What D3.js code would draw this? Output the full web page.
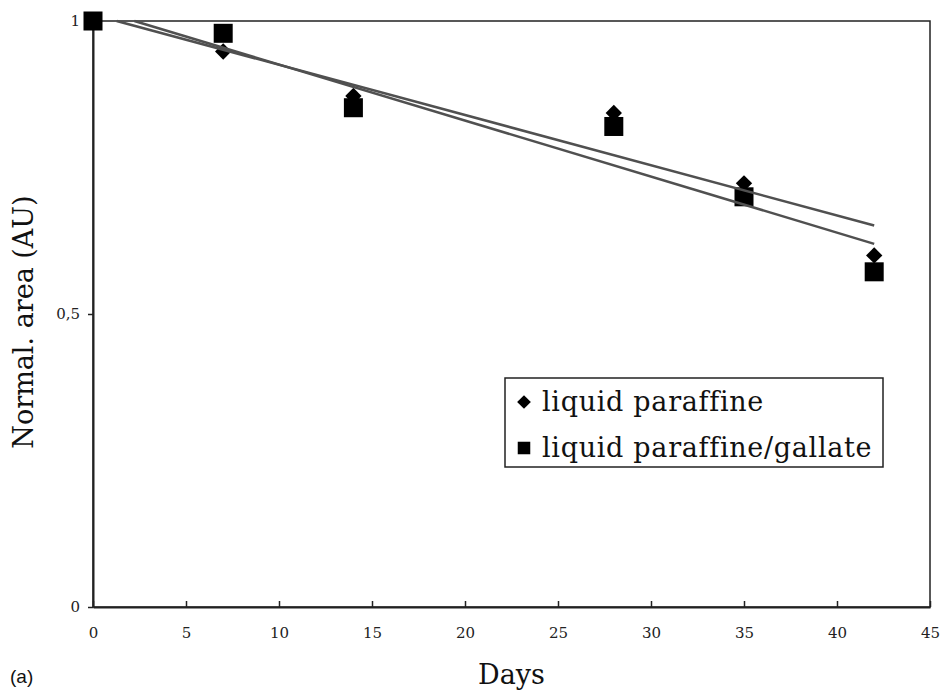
<!DOCTYPE html>
<html>
<head>
<meta charset="utf-8">
<script src="https://cdn.jsdelivr.net/npm/d3@7"></script>
<style>
  body { margin: 0; background: #fff; }
  svg { display: block; }
</style>
</head>
<body>
<div id="chart"></div>
<script>
// Data
const days = [0, 7, 14, 28, 35, 42];
const paraffine = [1.0, 0.948, 0.872, 0.843, 0.723, 0.60];
const gallate = [1.0, 0.979, 0.852, 0.82, 0.70, 0.572];
const xTicks = [0, 5, 10, 15, 20, 25, 30, 35, 40, 45];
const yTicks = [0, 0.5, 1];
const yTickLabels = ['0', '0,5', '1'];
const seriesNames = ['liquid paraffine', 'liquid paraffine/gallate'];

const width = 943, height = 694;
const margin = { left: 93, top: 21, right: 13, bottom: 87 };
const serif = '"DejaVu Serif", serif';

const svg = d3.select('#chart').append('svg')
    .attr('width', width)
    .attr('height', height);

const x = d3.scaleLinear().domain([0, 45]).range([margin.left, width - margin.right]);
const y = d3.scaleLinear().domain([0, 1]).range([height - margin.bottom, margin.top]);

// Plot frame
svg.append('rect')
    .attr('x', x(0)).attr('y', y(1))
    .attr('width', x(45) - x(0)).attr('height', y(0) - y(1))
    .attr('fill', 'none').attr('stroke', '#222').attr('stroke-width', 1.5);

// X axis (ticks pointing inward)
const xAxis = svg.append('g')
    .attr('transform', `translate(0,${y(0)})`)
    .call(d3.axisBottom(x).tickValues(xTicks).tickSizeInner(-6).tickSizeOuter(0).tickPadding(20));
xAxis.select('.domain').attr('stroke', '#222').attr('stroke-width', 2);
xAxis.selectAll('.tick line').attr('stroke', '#222').attr('stroke-width', 1.5);
xAxis.selectAll('.tick text')
    .attr('font-family', serif).attr('font-size', 15).attr('fill', '#222');

// Y axis
const yAxis = svg.append('g')
    .attr('transform', `translate(${x(0)},0)`)
    .call(d3.axisLeft(y).tickValues(yTicks).tickFormat((d, i) => yTickLabels[i])
        .tickSizeInner(5).tickSizeOuter(0).tickPadding(8));
yAxis.select('.domain').attr('stroke', '#222').attr('stroke-width', 2);
yAxis.selectAll('.tick line').attr('stroke', '#222').attr('stroke-width', 1.5);
yAxis.selectAll('.tick text')
    .attr('font-family', serif).attr('font-size', 15).attr('fill', '#222');

// Markers (squares drawn over diamonds)
const diamond = d3.symbol().type(d3.symbolDiamond2).size(170);
svg.append('g').selectAll('path')
    .data(days.map((d, i) => [d, paraffine[i]]))
    .join('path')
    .attr('d', diamond)
    .attr('transform', d => `translate(${x(d[0])},${y(d[1])})`)
    .attr('fill', '#000');

svg.append('g').selectAll('rect')
    .data(days.map((d, i) => [d, gallate[i]]))
    .join('rect')
    .attr('x', d => x(d[0]) - 9.5).attr('y', d => y(d[1]) - 9.5)
    .attr('width', 19).attr('height', 19)
    .attr('fill', '#000');

// Linear trendlines, clipped to the plot area (y <= 1)
function fit(xs, ys) {
    const mx = d3.mean(xs), my = d3.mean(ys);
    const sxy = d3.sum(xs, (v, i) => (v - mx) * (ys[i] - my));
    const sxx = d3.sum(xs, v => (v - mx) * (v - mx));
    const slope = sxy / sxx;
    return { slope, intercept: my - slope * mx };
}
[paraffine, gallate].forEach(ys => {
    const f = fit(days, ys);
    const x0 = Math.max(0, (1 - f.intercept) / f.slope);
    const x1 = d3.max(days);
    svg.append('line')
        .attr('x1', x(x0)).attr('y1', y(f.intercept + f.slope * x0))
        .attr('x2', x(x1)).attr('y2', y(f.intercept + f.slope * x1))
        .attr('stroke', '#505050').attr('stroke-width', 2.5);
});

// Legend
const legend = svg.append('g');
legend.append('rect')
    .attr('x', 505).attr('y', 378).attr('width', 378).attr('height', 89)
    .attr('fill', '#fff').attr('stroke', '#222').attr('stroke-width', 1.5);
const lg = legend.selectAll('g.item')
    .data(seriesNames)
    .join('g')
    .attr('transform', (d, i) => `translate(524,${402 + i * 46})`);
lg.append('path')
    .attr('d', (d, i) => (i === 0 ? d3.symbol().type(d3.symbolDiamond2).size(120) : d3.symbol().type(d3.symbolSquare2).size(200))())
    .attr('fill', '#000');
lg.append('text')
    .attr('x', 18).attr('y', 9)
    .attr('font-family', serif).attr('font-size', 27).attr('letter-spacing', 0.7).attr('fill', '#111')
    .text(d => d);

// Axis titles
svg.append('text')
    .attr('x', (x(0) + x(45)) / 2).attr('y', 684)
    .attr('text-anchor', 'middle')
    .attr('font-family', serif).attr('font-size', 27).attr('fill', '#111')
    .text('Days');
svg.append('text')
    .attr('transform', 'translate(33,322) rotate(-90)')
    .attr('text-anchor', 'middle')
    .attr('font-family', serif).attr('font-size', 27).attr('fill', '#111')
    .text('Normal. area (AU)');
svg.append('text')
    .attr('x', 10).attr('y', 683)
    .attr('font-family', '"Liberation Sans", Arial, sans-serif').attr('font-size', 19).attr('fill', '#111')
    .text('(a)');
</script>
</body>
</html>
